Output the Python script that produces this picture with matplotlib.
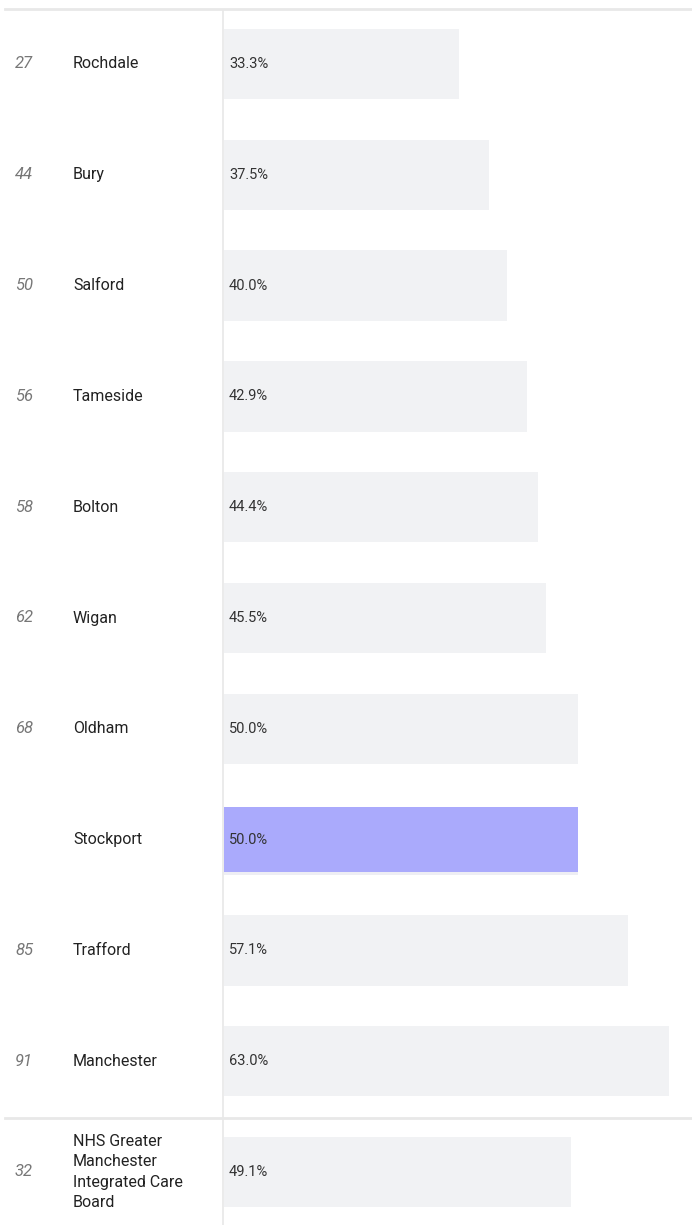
import numpy as np
import matplotlib.pyplot as plt
import matplotlib.transforms as mtransforms

names = ["Rochdale", "Bury", "Salford", "Tameside", "Bolton", "Wigan",
         "Oldham", "Stockport", "Trafford", "Manchester",
         "NHS Greater\nManchester\nIntegrated Care\nBoard"]
ranks = ["27", "44", "50", "56", "58", "62", "68", "", "85", "91", "32"]
values = [33.3, 37.5, 40.0, 42.9, 44.4, 45.5, 50.0, 50.0, 57.1, 63.0, 49.1]
highlight = "Stockport"

W, H = 692, 1225
zeroPx = 224
pxPerPct = 7.07
pitch = 110.8
firstCenter = 64

plt.rcParams['font.family'] = ['Roboto', 'DejaVu Sans']

fig = plt.figure(figsize=(W / 100, H / 100), dpi=100)
ax = fig.add_axes([0, 0, 1, 1])
ax.set_xlim(-zeroPx / pxPerPct, (W - zeroPx) / pxPerPct)
ax.set_ylim((H - firstCenter) / pitch, -firstCenter / pitch)
ax.set_axis_off()

y = np.arange(len(names))
colors = ["#aaaafc" if n == highlight else "#f1f2f4" for n in names]
heights = [0.59 if n == highlight else 0.635 for n in names]
ax.barh(y, values, height=heights, color=colors, left=0, zorder=2)

# soft shadow under highlighted bar
hi = names.index(highlight)
ax.barh(hi + 0.02, values[hi], height=0.59, color="#eeeef4", zorder=1)

trans = mtransforms.blended_transform_factory(fig.transFigure, ax.transData)
for i in range(len(names)):
    ax.text(15 / W, y[i], ranks[i], transform=trans, fontsize=12,
            style="italic", color="#777777", va="center", ha="left")
    ax.text(73 / W, y[i], names[i], transform=trans, fontsize=11.5,
            color="#222222", va="center", ha="left", linespacing=1.45)
    ax.text(229 / W, y[i], f"{values[i]:.1f}%", transform=trans,
            fontsize=10.5, color="#333333", va="center", ha="left", zorder=3)

# frame lines
fig.add_artist(plt.Line2D([5 / W, 1], [1 - 9 / H, 1 - 9 / H],
                          color="#e8e8e8", lw=2))
fig.add_artist(plt.Line2D([5 / W, 1], [1 - 1118 / H, 1 - 1118 / H],
                          color="#e8e8e8", lw=2))
fig.add_artist(plt.Line2D([223 / W, 223 / W], [0, 1 - 10 / H],
                          color="#e8e8e8", lw=1.2))

fig.savefig("out.png", dpi=100, facecolor="white")
